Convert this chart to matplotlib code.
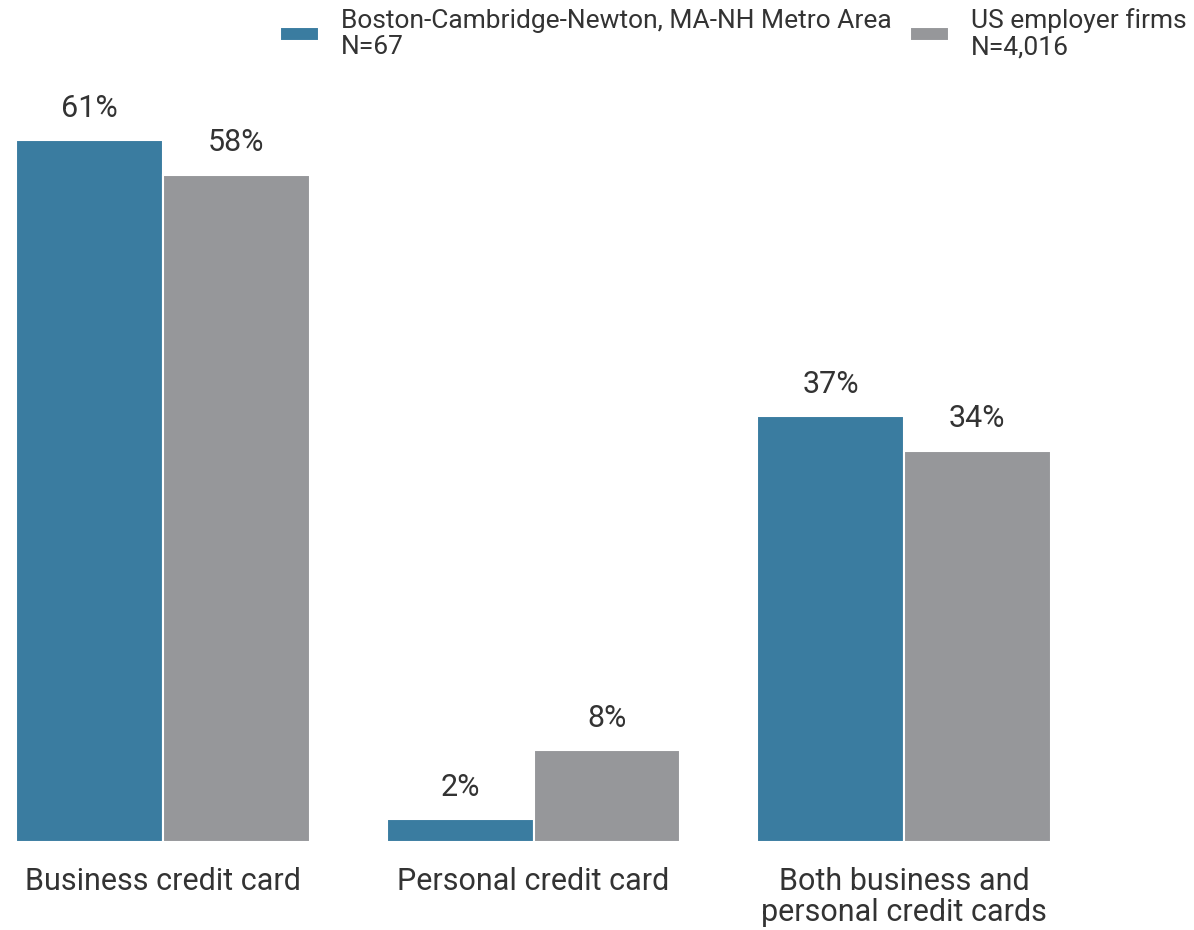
import numpy as np
import matplotlib
matplotlib.use("Agg")
import matplotlib.pyplot as plt

categories = ["Business credit card", "Personal credit card",
              "Both business and\npersonal credit cards"]
boston_vals = [61, 2, 37]
us_vals = [58, 8, 34]
series_names = ["Boston-Cambridge-Newton, MA-NH Metro Area\nN=67",
                "US employer firms\nN=4,016"]

plt.rcParams['font.family'] = ['Roboto', 'DejaVu Sans']
text_col = "#333333"
blue = "#3a7ca0"
gray = "#96979a"

W, H = 1194, 930
fig = plt.figure(figsize=(W / 100, H / 100), dpi=100)
# axes placed in pixel coords: left 15, right 1052, baseline 842, top (61%) 140
ax = fig.add_axes([15 / W, (H - 842) / H, (1052 - 15) / W, (842 - 140) / H])

x = np.arange(len(categories))
w = 0.396
b1 = ax.bar(x - w / 2, boston_vals, w, color=blue, edgecolor="white", linewidth=1.5,
            label=series_names[0])
b2 = ax.bar(x + w / 2, us_vals, w, color=gray, edgecolor="white", linewidth=1.5,
            label=series_names[1])

for bars, vals in [(b1, boston_vals), (b2, us_vals)]:
    for r, v in zip(bars, vals):
        ax.text(r.get_x() + r.get_width() / 2, v + 1.5, f"{v}%", ha="center", va="bottom",
                fontsize=22, color=text_col, clip_on=False)

ax.set_xlim(-0.4, 2.4)
ax.set_ylim(0, 61)
ax.set_xticks(x)
ax.set_xticklabels(categories, fontsize=22, color=text_col, linespacing=1.1)
ax.tick_params(axis="x", length=0, pad=18)
ax.set_yticks([])
for s in ax.spines.values():
    s.set_visible(False)

leg = fig.legend(handles=[b1, b2], labels=series_names, loc="upper right",
                 bbox_to_anchor=(1192 / W, 1.0 - 3 / H), ncol=2, frameon=False, fontsize=19,
                 handlelength=1.45, handleheight=0.45, handletextpad=0.85,
                 columnspacing=0.7, borderaxespad=0.1, borderpad=0.1,
                 labelcolor=text_col)
for t in leg.get_texts():
    t.set_linespacing(1.12)

fig.savefig("out.png", dpi=100)
